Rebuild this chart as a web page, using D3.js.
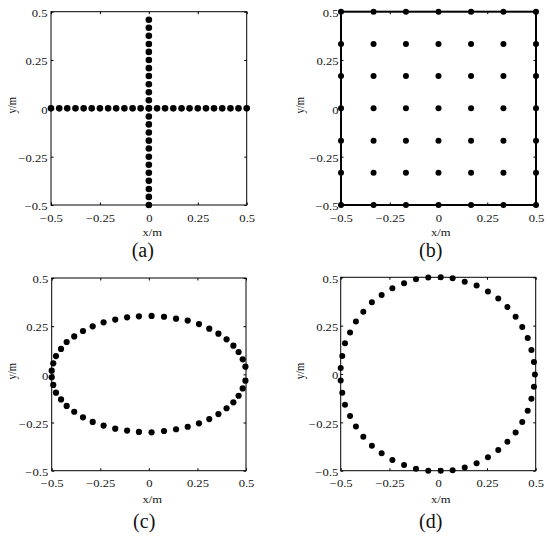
<!DOCTYPE html>
<html>
<head>
<meta charset="utf-8">
<script src="https://cdn.jsdelivr.net/npm/d3@7"></script>
<style>
    body { margin: 0; background: #fff; }
    svg { display: block; }
    text { font-family: "Liberation Serif", "Times New Roman", serif; fill: #111; }
</style>
</head>
<body>
<div id="chart"></div>
<script>
// tick values shared by all four panels
let ticks = [-0.5, -0.25, 0, 0.25, 0.5];
let tickLabels = ["\u22120.5", "\u22120.25", "0", "0.25", "0.5"];

// (a) cross: a row on y = 0 and a column on x = 0
let crossRowX = [-0.5, -0.458, -0.417, -0.375, -0.333, -0.292, -0.25, -0.208, -0.167, -0.125, -0.083, -0.042,
    0, 0.042, 0.083, 0.125, 0.167, 0.208, 0.25, 0.292, 0.333, 0.375, 0.417, 0.458, 0.5];
let crossColY = [-0.5, -0.458, -0.417, -0.375, -0.333, -0.292, -0.25, -0.208, -0.167, -0.125, -0.083, -0.042,
    0, 0.042, 0.083, 0.125, 0.167, 0.208, 0.25, 0.292, 0.333, 0.375, 0.417, 0.458];

// (b) 7 x 7 grid
let gridX = [-0.5, -0.333, -0.167, 0, 0.167, 0.333, 0.5];
let gridY = [-0.5, -0.333, -0.167, 0, 0.167, 0.333, 0.5];

// (c) ellipse
let ellipsePts = [
    [-0.500, 0.019], [-0.492, 0.057], [-0.478, 0.095], [-0.452, 0.132], [-0.423, 0.168], [-0.384, 0.197],
    [-0.339, 0.225], [-0.289, 0.249], [-0.233, 0.270], [-0.173, 0.284], [-0.112, 0.296], [-0.051, 0.301],
    [0.014, 0.303], [0.078, 0.299], [0.140, 0.289], [0.200, 0.279], [0.258, 0.261], [0.311, 0.237],
    [0.358, 0.211], [0.400, 0.182], [0.435, 0.149], [0.462, 0.116], [0.483, 0.078], [0.497, 0.040],
    [0.497, -0.033], [0.483, -0.073], [0.462, -0.111], [0.435, -0.145], [0.400, -0.176], [0.358, -0.206],
    [0.311, -0.232], [0.258, -0.254], [0.200, -0.272], [0.140, -0.285], [0.078, -0.294], [0.014, -0.301],
    [-0.051, -0.299], [-0.112, -0.292], [-0.173, -0.282], [-0.233, -0.266], [-0.289, -0.247], [-0.339, -0.223],
    [-0.384, -0.194], [-0.423, -0.164], [-0.452, -0.130], [-0.478, -0.095], [-0.492, -0.055], [-0.500, -0.015]
];

// (d) circle
let circlePts = [
    [-0.051, 0.499], [-0.114, 0.490], [-0.175, 0.469], [-0.235, 0.443], [-0.290, 0.408], [-0.340, 0.371],
    [-0.384, 0.322], [-0.422, 0.271], [-0.452, 0.215], [-0.478, 0.159], [-0.492, 0.093], [-0.500, 0.031],
    [-0.500, -0.034], [-0.492, -0.097], [-0.478, -0.159], [-0.452, -0.217], [-0.422, -0.272], [-0.384, -0.324],
    [-0.340, -0.371], [-0.290, -0.410], [-0.235, -0.445], [-0.175, -0.471], [-0.114, -0.490], [-0.051, -0.500],
    [0.013, 0.500], [0.074, 0.495], [0.136, 0.477], [0.197, 0.457], [0.255, 0.426], [0.308, 0.390],
    [0.355, 0.346], [0.397, 0.296], [0.431, 0.243], [0.459, 0.186], [0.478, 0.124], [0.491, 0.062],
    [0.496, -0.003], [0.491, -0.066], [0.478, -0.128], [0.459, -0.190], [0.431, -0.248], [0.397, -0.302],
    [0.355, -0.350], [0.308, -0.393], [0.255, -0.431], [0.197, -0.462], [0.136, -0.483], [0.074, -0.498],
    [0.013, -0.500]
];

let crossPts = crossRowX.map(function (x) { return [x, 0]; })
    .concat(crossColY.map(function (y) { return [0, y]; }));
let gridPts = d3.cross(gridX, gridY);

// layout: plot box [left, right, top, bottom] and label anchors
let panels = [
    { name: "(a)", pts: crossPts, box: [51, 246.7, 11.7, 205], frame: 1, gap: 3.5, r: 3.3,
        xlab: [152.3, 235.5], plab: [142.8, 256.5], ylabX: 16.4 },
    { name: "(b)", pts: gridPts, box: [341, 536, 11.7, 205], frame: 2, gap: 2.5, r: 3,
        xlab: [440.7, 235.5], plab: [430.7, 256.5], ylabX: 303.9 },
    { name: "(c)", pts: ellipsePts, box: [51.7, 246, 278, 470.7], frame: 1, gap: 3.5, r: 3.1,
        xlab: [152.3, 503], plab: [144.2, 527.5], ylabX: 15.9 },
    { name: "(d)", pts: circlePts, box: [340.7, 535.7, 277.3, 470.7], frame: 1, gap: 2.5, r: 3,
        xlab: [440.7, 503], plab: [430.7, 527.5], ylabX: 303.9 }
];

let W = 550, H = 537;
let fontSize = 10.5;
let serif = "'Liberation Serif', 'Times New Roman', serif";
let stretch = 1.2;   // the original glyphs are a little wide

let svg = d3.select("#chart")
    .append("svg")
    .attr("width", W)
    .attr("height", H);

svg.append("rect").attr("width", W).attr("height", H).attr("fill", "#fff");

panels.forEach(drawPanel);

function drawPanel(p) {
    let x0 = p.box[0], x1 = p.box[1], y0 = p.box[2], y1 = p.box[3];
    let xScale = d3.scaleLinear().domain([-0.5, 0.5]).range([x0, x1]);
    let yScale = d3.scaleLinear().domain([-0.5, 0.5]).range([y1, y0]);
    let g = svg.append("g");

    // labelled axes
    let xAxis = g.append("g")
        .attr("transform", "translate(0," + y1 + ")")
        .call(d3.axisBottom(xScale).tickValues(ticks).tickSizeInner(-2.5).tickSizeOuter(0)
            .tickFormat(function (d, i) { return tickLabels[i]; }));
    xAxis.selectAll("text")
        .attr("y", 16.7)
        .attr("dy", null)
        .attr("transform", "scale(" + stretch + ",1)");

    let yAxis = g.append("g")
        .attr("transform", "translate(" + x0 + ",0)")
        .call(d3.axisLeft(yScale).tickValues(ticks).tickSizeInner(-2.5).tickSizeOuter(0)
            .tickFormat(function (d, i) { return tickLabels[i]; }));
    yAxis.selectAll("text")
        .attr("x", -p.gap / stretch)
        .attr("dy", "0.45em")
        .attr("transform", "scale(" + stretch + ",1)");

    // mirrored ticks, no labels
    g.append("g")
        .attr("transform", "translate(0," + y0 + ")")
        .call(d3.axisTop(xScale).tickValues(ticks).tickSizeInner(-2.5).tickSizeOuter(0).tickFormat(""));
    g.append("g")
        .attr("transform", "translate(" + x1 + ",0)")
        .call(d3.axisRight(yScale).tickValues(ticks).tickSizeInner(-2.5).tickSizeOuter(0).tickFormat(""));

    g.selectAll(".domain").remove();
    g.selectAll(".tick line").attr("stroke", "#000");
    g.selectAll(".tick text")
        .style("font-family", serif)
        .style("font-size", fontSize + "px")
        .attr("fill", "#111");

    g.append("rect")
        .attr("x", x0).attr("y", y0)
        .attr("width", x1 - x0).attr("height", y1 - y0)
        .attr("fill", "none")
        .attr("stroke", "#000")
        .attr("stroke-width", p.frame);

    g.append("g")
        .selectAll("circle")
        .data(p.pts)
        .enter()
        .append("circle")
        .attr("cx", function (d) { return xScale(d[0]); })
        .attr("cy", function (d) { return yScale(d[1]); })
        .attr("r", p.r)
        .attr("fill", "#000");

    // axis titles and panel letter
    g.append("text")
        .attr("transform", "translate(" + p.xlab[0] + "," + p.xlab[1] + ") scale(" + stretch + ",1)")
        .attr("text-anchor", "middle")
        .style("font-family", serif)
        .style("font-size", fontSize + "px")
        .text("x/m");

    g.append("text")
        .attr("transform", "translate(" + p.ylabX + "," + ((y0 + y1) / 2 - 3) + ") scale(" + stretch + ",1) rotate(-90)")
        .attr("text-anchor", "middle")
        .style("font-family", serif)
        .style("font-size", fontSize + "px")
        .text("y/m");

    g.append("text")
        .attr("x", p.plab[0])
        .attr("y", p.plab[1])
        .attr("text-anchor", "middle")
        .style("font-family", serif)
        .style("font-size", "20px")
        .text(p.name);
}
</script>
</body>
</html>
